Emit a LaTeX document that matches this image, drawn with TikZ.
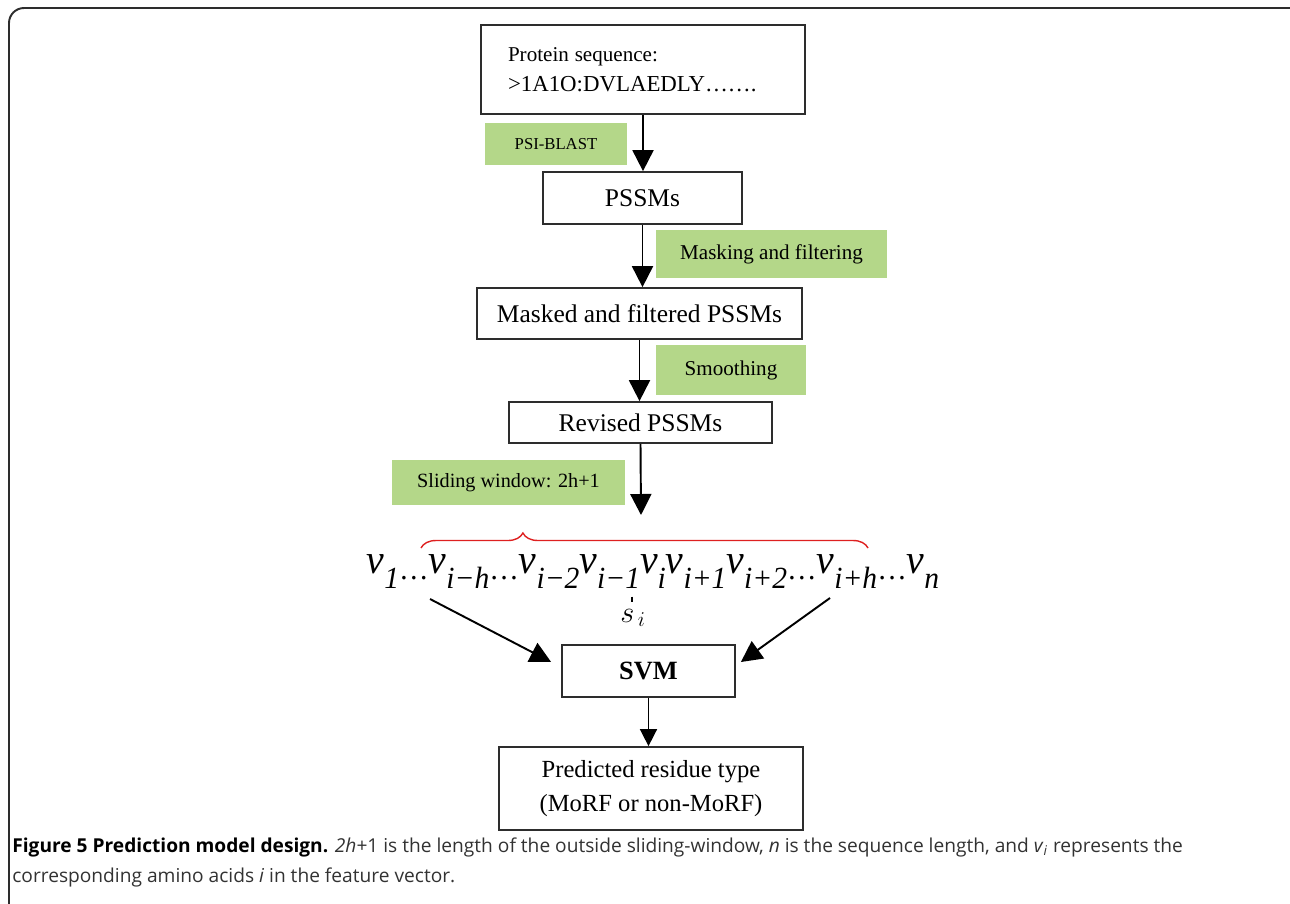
\documentclass[tikz,border=0pt]{standalone}
\usepackage{fontspec}
\usepackage{graphicx}
\usepackage{xcolor}
\usetikzlibrary{arrows.meta,decorations.pathreplacing,positioning}
\setmainfont{Liberation Serif}
\newfontfamily\capfont{Open Sans}
\definecolor{stepgreen}{RGB}{180, 215, 137}
\definecolor{bracered}{RGB}{222, 32, 32}
\definecolor{framegray}{RGB}{45, 45, 45}
\definecolor{captext}{RGB}{50, 50, 50}
% one element of the feature vector, with its subscript
\newcommand{\vsub}[1]{\textit{v}\raisebox{-9pt}{\fontsize{17.5}{18}\selectfont\itshape #1}}
\newcommand{\lowdots}{\raisebox{-3.5pt}{\fontsize{17.5}{18}\selectfont …}}

\tikzset{
  stepbox/.style={draw=framegray, line width=1pt, fill=white, inner sep=2pt},
  greentag/.style={fill=stepgreen, inner sep=0pt, font=\fontsize{12}{14}\selectfont},
  flow/.style={draw=black, line width=1.1pt, -{Triangle[width=0.42cm,length=0.42cm]}}
}

\begin{document}
\begin{tikzpicture}
\useasboundingbox (0,0) rectangle (25.8,-18.06);
% outer frame
\draw[framegray, line width=1.1pt, rounded corners=0.3cm] (0.18,-0.16) rectangle (26.2,-18.5);

% boxes of the pipeline
\node[stepbox, minimum width=6.48cm, minimum height=1.78cm, text width=5.4cm, align=left] (seq) at (12.86,-1.39)
  {{\fontsize{12}{14}\selectfont Protein sequence:}\\[5pt]{\fontsize{13}{15}\selectfont >1A1O:DVLAEDLY…….}};
\node[stepbox, minimum width=3.98cm, minimum height=1.04cm, font=\fontsize{14.5}{16}\selectfont] (pssm) at (12.85,-3.96) {PSSMs};
\node[stepbox, minimum width=6.5cm, minimum height=1.02cm, font=\fontsize{14.5}{16}\selectfont] (masked) at (12.79,-6.27) {Masked and filtered PSSMs};
\node[stepbox, minimum width=5.26cm, minimum height=0.82cm, font=\fontsize{14.5}{16}\selectfont] (revised) at (12.81,-8.45) {Revised PSSMs};
\node[stepbox, minimum width=3.46cm, minimum height=1.04cm, font=\bfseries\fontsize{15}{17}\selectfont] (svm) at (12.97,-13.42) {SVM};
\node[stepbox, minimum width=6.08cm, minimum height=1.66cm, align=center, font=\fontsize{14}{19}\selectfont] (pred) at (13.02,-15.77)
  {Predicted residue type\\(MoRF or non-MoRF)};

% green step labels
\node[greentag, minimum width=2.84cm, minimum height=0.84cm, font=\fontsize{9.5}{11}\selectfont] (blast) at (11.12,-2.88) {PSI-BLAST};
\node[greentag, minimum width=4.62cm, minimum height=0.96cm] (mask) at (15.43,-5.08) {Masking and filtering};
\node[greentag, minimum width=3.0cm, minimum height=1.0cm] (smooth) at (14.62,-7.40) {Smoothing};
\node[greentag, minimum width=4.66cm, minimum height=0.9cm, font=\fontsize{11.5}{13}\selectfont] (slide) at (10.17,-9.65) {Sliding window: 2h+1};

% feature vector
\node[anchor=base, inner sep=0pt, font=\fontsize{23.5}{26}\selectfont] (vec) at (13.06,-11.46)
  {\resizebox{11.45cm}{\height}{\vsub{1}\lowdots\vsub{i−h}\lowdots\vsub{i−2}\vsub{i−1}\vsub{i}\vsub{i+1}\vsub{i+2}\lowdots\vsub{i+h}\lowdots\vsub{n}}};
\draw[bracered, line width=0.8pt, decorate, decoration={brace, amplitude=0.3cm, aspect=0.228}]
  (8.42,-10.96) -- (17.36,-10.96);
\node[font=\fontsize{17}{19}\selectfont] (si) at (12.66,-12.36) {$s_{\,i}$};
\draw[line width=0.6pt] (12.64,-11.93) -- (12.64,-12.03);

\coordinate (lowin) at (8.6,-11.98);
\coordinate (highin) at (16.6,-11.96);
\coordinate (wintop) at (12.82,-10.3);

% connectors
\draw[flow] (seq.south) -- (seq.south |- pssm.north);
\draw[flow] (pssm.south) -- (pssm.south |- masked.north);
\draw[flow] (masked.south) -- (masked.south |- revised.north);
\draw[flow] (revised.south) -- (wintop);
\draw[flow] (lowin) -- ([shift={(-0.2cm,0.18cm)}]svm.west);
\draw[flow] (highin) -- ([shift={(0.1cm,0.18cm)}]svm.east);
\draw[flow, line width=0.9pt, -{Triangle[width=0.34cm,length=0.34cm]}] (svm.south) -- (svm.south |- pred.north);

% caption
\node[anchor=base west, inner sep=0pt, align=left, text=captext, font=\capfont\fontsize{10.9}{17}\selectfont] (cap) at (0.24,-17.64)
  {\textbf{\color{black}Figure 5 Prediction model design.} \textit{2h}+1 is the length of the outside sliding-window, \textit{n} is the sequence length, and \textit{v}\textsubscript{\textit{i}} represents the\\
   corresponding amino acids \textit{i} in the feature vector.};
\end{tikzpicture}
\end{document}
